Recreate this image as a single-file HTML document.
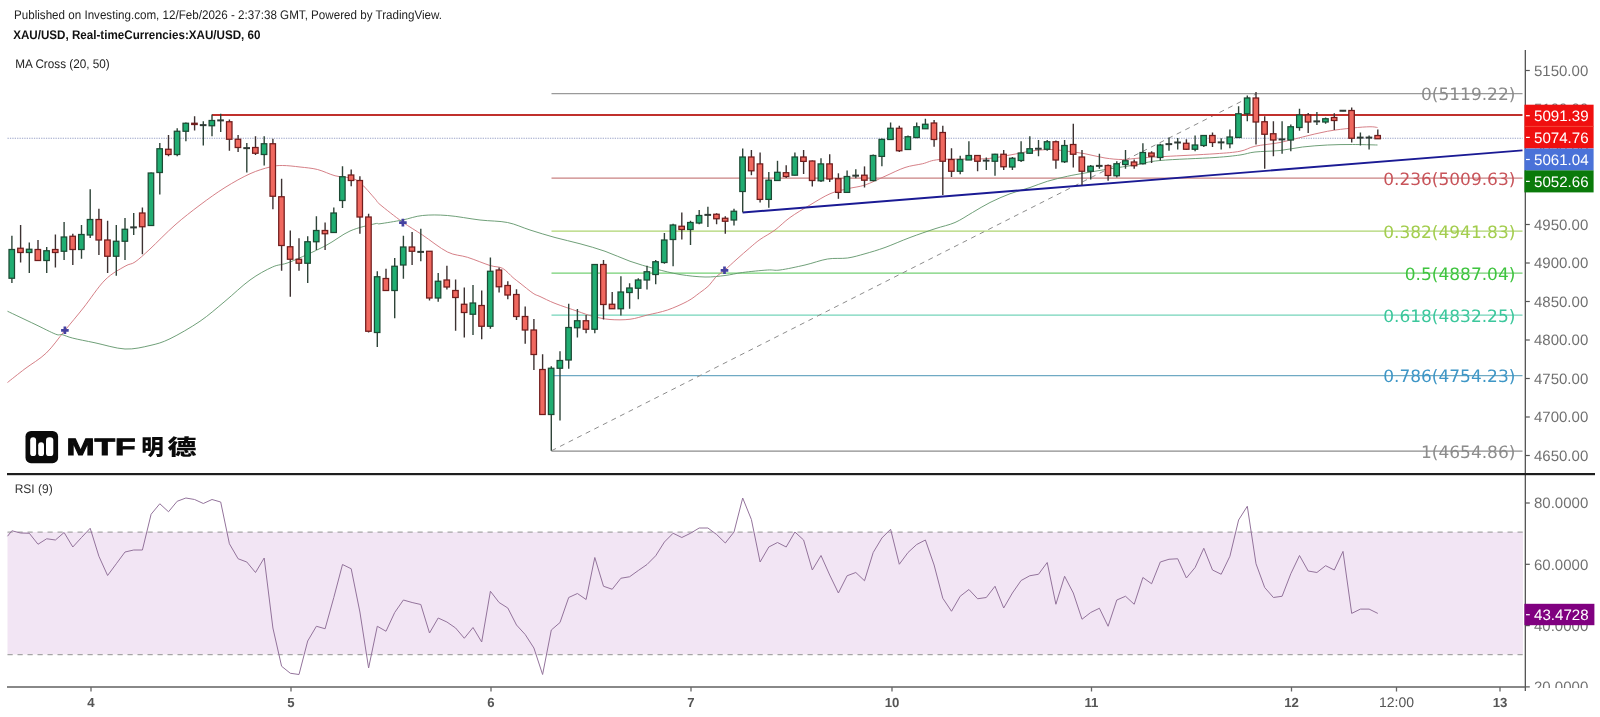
<!DOCTYPE html>
<html><head><meta charset="utf-8"><title>XAU/USD</title>
<style>
html,body{margin:0;padding:0;background:#fff;}
body{width:1600px;height:717px;overflow:hidden;font-family:"Liberation Sans","Noto Sans CJK SC",sans-serif;}
svg{display:block}
text{text-rendering:geometricPrecision}
.hd{font-size:12.5px;fill:#222}
.ax{font-size:15px;fill:#707070}
.lb{font-size:15.1px;fill:#fff}
.fib{font-family:"DejaVu Sans","Liberation Sans",sans-serif;font-size:17px;text-anchor:end}
.tm{font-size:13.2px;fill:#555;text-anchor:middle;font-weight:bold}
</style></head><body>
<svg width="1600" height="717" viewBox="0 0 1600 717">
<rect width="1600" height="717" fill="#fff"/>
<g style="filter:brightness(1)">

<rect x="7.5" y="532" width="1515.5" height="122.5" fill="#f2e5f4"/>
<line x1="7.5" y1="532" x2="1523" y2="532" stroke="#a6a6a6" stroke-width="1.25" stroke-dasharray="5.2 4.8"/>
<line x1="7.5" y1="654.5" x2="1523" y2="654.5" stroke="#a6a6a6" stroke-width="1.25" stroke-dasharray="5.2 4.8"/>
<polyline points="7.5,536.25 11.9,530.75 20.6,533 29.3,533.25 38,544.25 46.7,538.75 55.4,540 64.1,532.5 72.8,547 81.5,537.5 90.2,528.25 98.9,556.25 107.6,575.5 116.3,563.75 125,552 133.7,550 142.4,550 151.1,514.25 159.8,503.75 168.5,511.75 177.2,501.25 185.9,498 194.6,499.5 203.3,503.5 212,499.5 220.7,502 229.4,543.75 238.1,558.75 246.8,562 255.5,572.5 264.2,558 272.9,628 281.6,666.25 290.3,673.25 299,674.5 307.7,641 316.4,626.25 325.1,628.75 333.8,597.5 342.5,564.5 351.2,568.75 359.9,612 368.6,668 377.3,626.25 386,631.25 394.7,612.5 403.4,600 412.1,602.5 420.8,604.5 429.5,633 438.2,618 446.9,622 455.6,628 464.3,638.25 473,627.5 481.7,642 490.4,591.25 499.1,602.5 507.8,608 516.5,625 525.2,634.5 533.9,648 542.6,674.5 551.3,630 560,622.5 568.7,597.5 577.4,593.5 586.1,599.5 594.8,557.5 603.5,586.25 612.2,589.25 620.9,578.25 629.6,576.75 638.3,570.5 647,564.5 655.7,555.75 664.4,542 673.1,533.25 681.8,537.5 690.5,533.25 699.2,528 707.9,528 716.6,534.5 725.3,543 734,532 742.7,498 751.4,519.5 760.1,562 768.8,547 777.5,542.5 786.2,547 794.9,532 803.6,540 812.3,570 821,555.5 829.7,575 838.4,593 847.1,575.75 855.8,572.5 864.5,580.75 873.2,552.5 881.9,538 890.6,529.25 899.3,564.25 908,552.5 916.7,544.5 925.4,540 934.1,565 942.8,598.25 951.5,611.25 960.2,596.25 968.9,589.5 977.6,598.75 986.3,597.5 995,586.25 1003.7,608 1012.4,593 1021.1,580.5 1029.8,575.75 1038.5,574.25 1047.2,562.5 1055.9,604.25 1064.6,576.25 1073.3,593 1082,619.25 1090.7,612.5 1099.4,608.25 1108.1,626.25 1116.8,600 1125.5,596.25 1134.2,604.25 1142.9,577.5 1151.6,583.75 1160.3,562 1169,559.25 1177.7,558.75 1186.4,578 1195.1,567.5 1203.8,548.25 1212.5,570 1221.2,574.25 1229.9,556.25 1238.6,520 1247.3,506.25 1256,563.75 1264.7,587.5 1273.4,597.5 1282.1,596.25 1290.8,573.75 1299.5,555.5 1308.2,571 1316.9,572.5 1325.6,565.7 1334.3,570 1343,551.4 1351.7,613.4 1360.4,609.1 1369.1,609.1 1377.8,613.4" fill="none" stroke="#93739b" stroke-width="1" stroke-linejoin="round"/>
<line x1="551.5" y1="93.5" x2="1522.5" y2="93.5" stroke="#9a9a9a" stroke-width="1.25"/>
<line x1="551.5" y1="178" x2="1522.5" y2="178" stroke="#c98282" stroke-width="1.25"/>
<line x1="551.5" y1="231" x2="1522.5" y2="231" stroke="#aed470" stroke-width="1.25"/>
<line x1="551.5" y1="273" x2="1522.5" y2="273" stroke="#74d074" stroke-width="1.25"/>
<line x1="551.5" y1="315.2" x2="1522.5" y2="315.2" stroke="#74d4ba" stroke-width="1.25"/>
<line x1="551.5" y1="375.5" x2="1522.5" y2="375.5" stroke="#6faac4" stroke-width="1.25"/>
<line x1="551.5" y1="451" x2="1522.5" y2="451" stroke="#8c8c8c" stroke-width="1.25"/>
<line x1="551.5" y1="450.75" x2="1256" y2="94" stroke="#8c8c8c" stroke-width="1" stroke-dasharray="5 4.6"/>
<line x1="7.5" y1="138.2" x2="1522.5" y2="138.2" stroke="#9aa3c8" stroke-width="1.15" stroke-dasharray="1.3 1.1"/>
<path d="M7.5 382.5C10.42 380.21 18.53 373.67 25 368.75C31.47 363.83 39.65 359.39 46.3 353C52.95 346.61 58.73 337.9 64.9 330.4C71.07 322.9 76.62 316.4 83.3 308C89.98 299.6 98.05 286.96 105 280C111.95 273.04 120 269.25 125 266.25C130 263.25 130.83 264.88 135 262C139.17 259.12 143.33 255.17 150 249C156.67 242.83 166.67 232.33 175 225C183.33 217.67 191.67 211.25 200 205C208.33 198.75 216.67 192.71 225 187.5C233.33 182.29 242.5 177.17 250 173.75C257.5 170.33 264.58 168.38 270 167C275.42 165.62 277.5 165.5 282.5 165.5C287.5 165.5 294.17 166.33 300 167C305.83 167.67 311.67 168.04 317.5 169.5C323.33 170.96 329.58 174.33 335 175.75C340.42 177.17 345.83 176.88 350 178C354.17 179.12 355.83 179.04 360 182.5C364.17 185.96 371.67 195.08 375 198.75C378.33 202.42 375.42 200.62 380 204.5C384.58 208.38 395.42 216.92 402.5 222C409.58 227.08 415 230 422.5 235C430 240 440 248.28 447.5 252C455 255.72 460.42 255.05 467.5 257.3C474.58 259.55 484.17 263.67 490 265.5C495.83 267.33 498.67 266.28 502.5 268.3C506.33 270.32 510.08 275.13 513 277.6C515.92 280.07 516.65 280.48 520 283.1C523.35 285.72 529.77 291.07 533.1 293.3C536.43 295.53 536.35 294.82 540 296.5C543.65 298.18 548.75 300.94 555 303.4C561.25 305.86 571.25 309.11 577.5 311.25C583.75 313.39 587.08 314.88 592.5 316.25C597.92 317.62 603.75 319 610 319.5C616.25 320 623.75 320 630 319.25C636.25 318.5 641.25 316.54 647.5 315C653.75 313.46 660.83 312.29 667.5 310C674.17 307.71 682.18 304.08 687.5 301.25C692.82 298.42 695.85 295.59 699.4 293C702.95 290.41 706.08 288.33 708.8 285.7C711.52 283.07 713.08 279.77 715.7 277.2C718.32 274.63 720.95 273.33 724.5 270.3C728.05 267.27 732.82 262.72 737 259C741.18 255.28 745.77 251.25 749.6 248C753.43 244.75 755.77 242.5 760 239.5C764.23 236.5 770 233.67 775 230C780 226.33 784.17 221.67 790 217.5C795.83 213.33 803.33 208.96 810 205C816.67 201.04 823.75 196.46 830 193.75C836.25 191.04 841.67 190.21 847.5 188.75C853.33 187.29 858.75 187.08 865 185C871.25 182.92 878.33 179.17 885 176.25C891.67 173.33 898.75 169.58 905 167.5C911.25 165.42 916.67 165.08 922.5 163.75C928.33 162.42 929.58 160.33 940 159.5C950.42 158.67 973.33 159.5 985 158.75C996.67 158 1002.5 156.25 1010 155C1017.5 153.75 1023.33 152.17 1030 151.25C1036.67 150.33 1043.75 149.5 1050 149.5C1056.25 149.5 1061.67 150.54 1067.5 151.25C1073.33 151.96 1078.75 152.62 1085 153.75C1091.25 154.88 1098.75 157.04 1105 158C1111.25 158.96 1116.67 159.5 1122.5 159.5C1128.33 159.5 1132.92 158.5 1140 158C1147.08 157.5 1152.5 157.21 1165 156.5C1177.5 155.79 1202.5 154.62 1215 153.75C1227.5 152.88 1233.33 152.5 1240 151.25C1246.67 150 1248.33 147.71 1255 146.25C1261.67 144.79 1272.08 144.04 1280 142.5C1287.92 140.96 1294.58 138.88 1302.5 137C1310.42 135.12 1319.17 132.75 1327.5 131.25C1335.83 129.75 1345.42 128.75 1352.5 128C1359.58 127.25 1365.83 126.83 1370 126.75C1374.17 126.67 1376.25 127.38 1377.5 127.5" fill="none" stroke="#d0727a" stroke-width="1" stroke-opacity="0.9"/>
<path d="M7.5 311.25C12.08 313.43 26.97 320.48 35 324.3C43.03 328.12 51.2 332.48 55.7 334.2C60.2 335.92 59.17 333.95 62 334.6C64.83 335.25 67.2 336.73 72.7 338.1C78.2 339.47 86.28 340.98 95 342.8C103.72 344.62 115.83 348.55 125 349C134.17 349.45 142.5 347.21 150 345.5C157.5 343.79 161.67 342.79 170 338.75C178.33 334.71 190.83 327.5 200 321.25C209.17 315 216.67 308.12 225 301.25C233.33 294.38 242.08 285.71 250 280C257.92 274.29 265.83 270 272.5 267C279.17 264 281.25 265.5 290 262C298.75 258.5 315 251.17 325 246C335 240.83 341.67 234.71 350 231C358.33 227.29 370 224.96 375 223.75C380 222.54 375.42 224.38 380 223.75C384.58 223.12 395.42 221.38 402.5 220C409.58 218.62 415 216.25 422.5 215.5C430 214.75 437.92 214.75 447.5 215.5C457.08 216.25 470 218.83 480 220C490 221.17 499.17 220.83 507.5 222.5C515.83 224.17 522.08 227.5 530 230C537.92 232.5 546.67 235.21 555 237.5C563.33 239.79 571.67 241.46 580 243.75C588.33 246.04 596.67 248.33 605 251.25C613.33 254.17 621.67 258.33 630 261.25C638.33 264.17 646.67 266.54 655 268.75C663.33 270.96 671.67 273.12 680 274.5C688.33 275.88 697.5 276.83 705 277C712.5 277.17 718.75 276.25 725 275.5C731.25 274.75 735.42 273.42 742.5 272.5C749.58 271.58 761.25 270.42 767.5 270C773.75 269.58 773.75 270.83 780 270C786.25 269.17 797.08 266.83 805 265C812.92 263.17 820.42 260.17 827.5 259C834.58 257.83 841.25 258.88 847.5 258C853.75 257.12 858.75 255.5 865 253.75C871.25 252 877.5 250.21 885 247.5C892.5 244.79 901.67 240.62 910 237.5C918.33 234.38 927.5 231.25 935 228.75C942.5 226.25 948.75 225.21 955 222.5C961.25 219.79 966.67 215.83 972.5 212.5C978.33 209.17 983.75 205.62 990 202.5C996.25 199.38 1003.33 196.25 1010 193.75C1016.67 191.25 1023.75 189.58 1030 187.5C1036.25 185.42 1041.25 183.12 1047.5 181.25C1053.75 179.38 1061.25 177.62 1067.5 176.25C1073.75 174.88 1077.92 174.25 1085 173C1092.08 171.75 1101.67 170.08 1110 168.75C1118.33 167.42 1126.67 166.38 1135 165C1143.33 163.62 1146.67 161.75 1160 160.5C1173.33 159.25 1201.67 158.42 1215 157.5C1228.33 156.58 1233.33 155.92 1240 155C1246.67 154.08 1248.33 152.75 1255 152C1261.67 151.25 1272.08 151.33 1280 150.5C1287.92 149.67 1294.58 147.92 1302.5 147C1310.42 146.08 1319.17 145.42 1327.5 145C1335.83 144.58 1344.17 144.5 1352.5 144.5C1360.83 144.5 1373.33 144.92 1377.5 145" fill="none" stroke="#5f9569" stroke-width="1" stroke-opacity="0.9"/>
<line x1="212" y1="115" x2="1522.5" y2="115" stroke="#c0302c" stroke-width="2.2"/>
<line x1="742.6" y1="212.5" x2="1522.5" y2="150.4" stroke="#1a1a94" stroke-width="1.9"/>
<line x1="11.9" y1="235.75" x2="11.9" y2="283" stroke="#2f4439" stroke-width="1.4"/>
<rect x="9" y="249.5" width="5.5" height="28.75" fill="#20ad72" stroke="#1c4a34" stroke-width="1.25"/>
<line x1="20.6" y1="225" x2="20.6" y2="262.5" stroke="#3d3232" stroke-width="1.4"/>
<rect x="17.7" y="248.25" width="5.5" height="4.25" fill="#f0685f" stroke="#701c1c" stroke-width="1.25"/>
<line x1="29.3" y1="242.5" x2="29.3" y2="273" stroke="#2f4439" stroke-width="1.4"/>
<rect x="26.4" y="249.25" width="5.5" height="3.25" fill="#20ad72" stroke="#1c4a34" stroke-width="1.25"/>
<line x1="38" y1="240" x2="38" y2="260.5" stroke="#3d3232" stroke-width="1.4"/>
<rect x="35.1" y="249.5" width="5.5" height="11" fill="#f0685f" stroke="#701c1c" stroke-width="1.25"/>
<line x1="46.7" y1="247" x2="46.7" y2="273" stroke="#2f4439" stroke-width="1.4"/>
<rect x="43.8" y="250.75" width="5.5" height="9.75" fill="#20ad72" stroke="#1c4a34" stroke-width="1.25"/>
<line x1="55.4" y1="234.5" x2="55.4" y2="267.5" stroke="#3d3232" stroke-width="1.4"/>
<rect x="52.5" y="249.5" width="5.5" height="3" fill="#f0685f" stroke="#701c1c" stroke-width="1.25"/>
<line x1="64.1" y1="222" x2="64.1" y2="260" stroke="#2f4439" stroke-width="1.4"/>
<rect x="61.2" y="237" width="5.5" height="14.25" fill="#20ad72" stroke="#1c4a34" stroke-width="1.25"/>
<line x1="72.8" y1="233.75" x2="72.8" y2="265" stroke="#3d3232" stroke-width="1.4"/>
<rect x="69.9" y="236.25" width="5.5" height="13.25" fill="#f0685f" stroke="#701c1c" stroke-width="1.25"/>
<line x1="81.5" y1="225" x2="81.5" y2="258.75" stroke="#2f4439" stroke-width="1.4"/>
<rect x="78.6" y="234.5" width="5.5" height="15" fill="#20ad72" stroke="#1c4a34" stroke-width="1.25"/>
<line x1="90.2" y1="189.25" x2="90.2" y2="238" stroke="#2f4439" stroke-width="1.4"/>
<rect x="87.3" y="219.5" width="5.5" height="15.5" fill="#20ad72" stroke="#1c4a34" stroke-width="1.25"/>
<line x1="98.9" y1="208.75" x2="98.9" y2="255" stroke="#3d3232" stroke-width="1.4"/>
<rect x="96" y="219.5" width="5.5" height="20.5" fill="#f0685f" stroke="#701c1c" stroke-width="1.25"/>
<line x1="107.6" y1="220.75" x2="107.6" y2="273" stroke="#3d3232" stroke-width="1.4"/>
<rect x="104.7" y="240" width="5.5" height="16.25" fill="#f0685f" stroke="#701c1c" stroke-width="1.25"/>
<line x1="116.3" y1="225" x2="116.3" y2="275.75" stroke="#2f4439" stroke-width="1.4"/>
<rect x="113.4" y="241.25" width="5.5" height="15" fill="#20ad72" stroke="#1c4a34" stroke-width="1.25"/>
<line x1="125" y1="218" x2="125" y2="260" stroke="#2f4439" stroke-width="1.4"/>
<rect x="122.1" y="229.25" width="5.5" height="12" fill="#20ad72" stroke="#1c4a34" stroke-width="1.25"/>
<line x1="133.7" y1="213" x2="133.7" y2="235" stroke="#2f4439" stroke-width="1.4"/>
<line x1="130.2" y1="227.38" x2="136.9" y2="227.38" stroke="#2f3a35" stroke-width="2"/>
<line x1="142.4" y1="207.5" x2="142.4" y2="254.25" stroke="#3d3232" stroke-width="1.4"/>
<rect x="139.5" y="213" width="5.5" height="13.75" fill="#f0685f" stroke="#701c1c" stroke-width="1.25"/>
<line x1="151.1" y1="172.5" x2="151.1" y2="225.5" stroke="#2f4439" stroke-width="1.4"/>
<rect x="148.2" y="173" width="5.5" height="52.5" fill="#20ad72" stroke="#1c4a34" stroke-width="1.25"/>
<line x1="159.8" y1="143" x2="159.8" y2="194.5" stroke="#2f4439" stroke-width="1.4"/>
<rect x="156.9" y="148.75" width="5.5" height="23.75" fill="#20ad72" stroke="#1c4a34" stroke-width="1.25"/>
<line x1="168.5" y1="135" x2="168.5" y2="156.25" stroke="#3d3232" stroke-width="1.4"/>
<rect x="165.6" y="149.25" width="5.5" height="5.25" fill="#f0685f" stroke="#701c1c" stroke-width="1.25"/>
<line x1="177.2" y1="128.25" x2="177.2" y2="156.25" stroke="#2f4439" stroke-width="1.4"/>
<rect x="174.3" y="131.25" width="5.5" height="23.25" fill="#20ad72" stroke="#1c4a34" stroke-width="1.25"/>
<line x1="185.9" y1="122.5" x2="185.9" y2="141.25" stroke="#2f4439" stroke-width="1.4"/>
<rect x="183" y="123.25" width="5.5" height="8" fill="#20ad72" stroke="#1c4a34" stroke-width="1.25"/>
<line x1="194.6" y1="116.25" x2="194.6" y2="130.5" stroke="#3d3232" stroke-width="1.4"/>
<rect x="191.7" y="123.25" width="5.5" height="1.25" fill="#f0685f" stroke="#701c1c" stroke-width="1.25"/>
<line x1="203.3" y1="121.25" x2="203.3" y2="145.5" stroke="#2f4439" stroke-width="1.4"/>
<line x1="199.8" y1="125.12" x2="206.5" y2="125.12" stroke="#2f3a35" stroke-width="2"/>
<line x1="212" y1="114.5" x2="212" y2="136.25" stroke="#2f4439" stroke-width="1.4"/>
<rect x="209.1" y="120.5" width="5.5" height="5.25" fill="#20ad72" stroke="#1c4a34" stroke-width="1.25"/>
<line x1="220.7" y1="113.75" x2="220.7" y2="132" stroke="#2f4439" stroke-width="1.4"/>
<line x1="217.2" y1="120.38" x2="223.9" y2="120.38" stroke="#2f3a35" stroke-width="2"/>
<line x1="229.4" y1="119.5" x2="229.4" y2="150.75" stroke="#3d3232" stroke-width="1.4"/>
<rect x="226.5" y="121.75" width="5.5" height="17.5" fill="#f0685f" stroke="#701c1c" stroke-width="1.25"/>
<line x1="238.1" y1="135" x2="238.1" y2="152" stroke="#3d3232" stroke-width="1.4"/>
<rect x="235.2" y="139.25" width="5.5" height="8.25" fill="#f0685f" stroke="#701c1c" stroke-width="1.25"/>
<line x1="246.8" y1="143" x2="246.8" y2="172.5" stroke="#2f4439" stroke-width="1.4"/>
<line x1="243.3" y1="148.12" x2="250" y2="148.12" stroke="#2f3a35" stroke-width="2"/>
<line x1="255.5" y1="136.25" x2="255.5" y2="155" stroke="#3d3232" stroke-width="1.4"/>
<rect x="252.6" y="147.5" width="5.5" height="5.75" fill="#f0685f" stroke="#701c1c" stroke-width="1.25"/>
<line x1="264.2" y1="136.25" x2="264.2" y2="165.5" stroke="#2f4439" stroke-width="1.4"/>
<rect x="261.3" y="143.75" width="5.5" height="10.75" fill="#20ad72" stroke="#1c4a34" stroke-width="1.25"/>
<line x1="272.9" y1="138.75" x2="272.9" y2="209.25" stroke="#3d3232" stroke-width="1.4"/>
<rect x="270" y="143.75" width="5.5" height="52.5" fill="#f0685f" stroke="#701c1c" stroke-width="1.25"/>
<line x1="281.6" y1="178.75" x2="281.6" y2="270.75" stroke="#3d3232" stroke-width="1.4"/>
<rect x="278.7" y="196.75" width="5.5" height="48.75" fill="#f0685f" stroke="#701c1c" stroke-width="1.25"/>
<line x1="290.3" y1="230.5" x2="290.3" y2="296.75" stroke="#3d3232" stroke-width="1.4"/>
<rect x="287.4" y="246.75" width="5.5" height="12.5" fill="#f0685f" stroke="#701c1c" stroke-width="1.25"/>
<line x1="299" y1="238.25" x2="299" y2="270.75" stroke="#3d3232" stroke-width="1.4"/>
<rect x="296.1" y="259.25" width="5.5" height="4" fill="#f0685f" stroke="#701c1c" stroke-width="1.25"/>
<line x1="307.7" y1="236.25" x2="307.7" y2="283" stroke="#2f4439" stroke-width="1.4"/>
<rect x="304.8" y="241.75" width="5.5" height="21.5" fill="#20ad72" stroke="#1c4a34" stroke-width="1.25"/>
<line x1="316.4" y1="216.25" x2="316.4" y2="250" stroke="#2f4439" stroke-width="1.4"/>
<rect x="313.5" y="230.5" width="5.5" height="11.25" fill="#20ad72" stroke="#1c4a34" stroke-width="1.25"/>
<line x1="325.1" y1="222.5" x2="325.1" y2="250" stroke="#3d3232" stroke-width="1.4"/>
<rect x="322.2" y="230.5" width="5.5" height="3.25" fill="#f0685f" stroke="#701c1c" stroke-width="1.25"/>
<line x1="333.8" y1="207.5" x2="333.8" y2="232.5" stroke="#2f4439" stroke-width="1.4"/>
<rect x="330.9" y="213" width="5.5" height="19.5" fill="#20ad72" stroke="#1c4a34" stroke-width="1.25"/>
<line x1="342.5" y1="166.25" x2="342.5" y2="208" stroke="#2f4439" stroke-width="1.4"/>
<rect x="339.6" y="176.75" width="5.5" height="23.75" fill="#20ad72" stroke="#1c4a34" stroke-width="1.25"/>
<line x1="351.2" y1="169.5" x2="351.2" y2="186.25" stroke="#3d3232" stroke-width="1.4"/>
<rect x="348.3" y="175" width="5.5" height="5.5" fill="#f0685f" stroke="#701c1c" stroke-width="1.25"/>
<line x1="359.9" y1="176.25" x2="359.9" y2="233.75" stroke="#3d3232" stroke-width="1.4"/>
<rect x="357" y="180.5" width="5.5" height="36.5" fill="#f0685f" stroke="#701c1c" stroke-width="1.25"/>
<line x1="368.6" y1="213.75" x2="368.6" y2="332.5" stroke="#3d3232" stroke-width="1.4"/>
<rect x="365.7" y="217" width="5.5" height="114.25" fill="#f0685f" stroke="#701c1c" stroke-width="1.25"/>
<line x1="377.3" y1="271.25" x2="377.3" y2="347" stroke="#2f4439" stroke-width="1.4"/>
<rect x="374.4" y="276.75" width="5.5" height="55.75" fill="#20ad72" stroke="#1c4a34" stroke-width="1.25"/>
<line x1="386" y1="268.75" x2="386" y2="290.5" stroke="#3d3232" stroke-width="1.4"/>
<rect x="383.1" y="278.5" width="5.5" height="12" fill="#f0685f" stroke="#701c1c" stroke-width="1.25"/>
<line x1="394.7" y1="258" x2="394.7" y2="318.25" stroke="#2f4439" stroke-width="1.4"/>
<rect x="391.8" y="266.25" width="5.5" height="24.25" fill="#20ad72" stroke="#1c4a34" stroke-width="1.25"/>
<line x1="403.4" y1="235.75" x2="403.4" y2="278.75" stroke="#2f4439" stroke-width="1.4"/>
<rect x="400.5" y="247" width="5.5" height="18" fill="#20ad72" stroke="#1c4a34" stroke-width="1.25"/>
<line x1="412.1" y1="232" x2="412.1" y2="265" stroke="#3d3232" stroke-width="1.4"/>
<rect x="409.2" y="247" width="5.5" height="4.25" fill="#f0685f" stroke="#701c1c" stroke-width="1.25"/>
<line x1="420.8" y1="228.75" x2="420.8" y2="261.25" stroke="#2f4439" stroke-width="1.4"/>
<line x1="417.3" y1="251.88" x2="424" y2="251.88" stroke="#2f3a35" stroke-width="2"/>
<line x1="429.5" y1="251.25" x2="429.5" y2="300.5" stroke="#3d3232" stroke-width="1.4"/>
<rect x="426.6" y="251.25" width="5.5" height="46.75" fill="#f0685f" stroke="#701c1c" stroke-width="1.25"/>
<line x1="438.2" y1="273" x2="438.2" y2="301.75" stroke="#2f4439" stroke-width="1.4"/>
<rect x="435.3" y="281.25" width="5.5" height="16.75" fill="#20ad72" stroke="#1c4a34" stroke-width="1.25"/>
<line x1="446.9" y1="265.75" x2="446.9" y2="289.5" stroke="#3d3232" stroke-width="1.4"/>
<rect x="444" y="280" width="5.5" height="7" fill="#f0685f" stroke="#701c1c" stroke-width="1.25"/>
<line x1="455.6" y1="279.5" x2="455.6" y2="330.75" stroke="#3d3232" stroke-width="1.4"/>
<rect x="452.7" y="290.5" width="5.5" height="7" fill="#f0685f" stroke="#701c1c" stroke-width="1.25"/>
<line x1="464.3" y1="287.5" x2="464.3" y2="337.5" stroke="#3d3232" stroke-width="1.4"/>
<rect x="461.4" y="304.25" width="5.5" height="8.25" fill="#f0685f" stroke="#701c1c" stroke-width="1.25"/>
<line x1="473" y1="285" x2="473" y2="335" stroke="#2f4439" stroke-width="1.4"/>
<rect x="470.1" y="303" width="5.5" height="11.25" fill="#20ad72" stroke="#1c4a34" stroke-width="1.25"/>
<line x1="481.7" y1="290.5" x2="481.7" y2="339.25" stroke="#3d3232" stroke-width="1.4"/>
<rect x="478.8" y="305.5" width="5.5" height="20.75" fill="#f0685f" stroke="#701c1c" stroke-width="1.25"/>
<line x1="490.4" y1="257.5" x2="490.4" y2="328.75" stroke="#2f4439" stroke-width="1.4"/>
<rect x="487.5" y="271.25" width="5.5" height="55" fill="#20ad72" stroke="#1c4a34" stroke-width="1.25"/>
<line x1="499.1" y1="267.5" x2="499.1" y2="292.5" stroke="#3d3232" stroke-width="1.4"/>
<rect x="496.2" y="270" width="5.5" height="16.75" fill="#f0685f" stroke="#701c1c" stroke-width="1.25"/>
<line x1="507.8" y1="281.25" x2="507.8" y2="299.25" stroke="#3d3232" stroke-width="1.4"/>
<rect x="504.9" y="285.5" width="5.5" height="9.5" fill="#f0685f" stroke="#701c1c" stroke-width="1.25"/>
<line x1="516.5" y1="289.25" x2="516.5" y2="320" stroke="#3d3232" stroke-width="1.4"/>
<rect x="513.6" y="294.5" width="5.5" height="22" fill="#f0685f" stroke="#701c1c" stroke-width="1.25"/>
<line x1="525.2" y1="306.5" x2="525.2" y2="343.75" stroke="#3d3232" stroke-width="1.4"/>
<rect x="522.3" y="316.5" width="5.5" height="13.5" fill="#f0685f" stroke="#701c1c" stroke-width="1.25"/>
<line x1="533.9" y1="319" x2="533.9" y2="370" stroke="#3d3232" stroke-width="1.4"/>
<rect x="531" y="330" width="5.5" height="24.5" fill="#f0685f" stroke="#701c1c" stroke-width="1.25"/>
<line x1="542.6" y1="354.25" x2="542.6" y2="414.5" stroke="#3d3232" stroke-width="1.4"/>
<rect x="539.7" y="369.5" width="5.5" height="45" fill="#f0685f" stroke="#701c1c" stroke-width="1.25"/>
<line x1="551.3" y1="366.25" x2="551.3" y2="450.75" stroke="#2f4439" stroke-width="1.4"/>
<rect x="548.4" y="368.25" width="5.5" height="46.25" fill="#20ad72" stroke="#1c4a34" stroke-width="1.25"/>
<line x1="560" y1="351.25" x2="560" y2="420.5" stroke="#2f4439" stroke-width="1.4"/>
<rect x="557.1" y="360.5" width="5.5" height="7.75" fill="#20ad72" stroke="#1c4a34" stroke-width="1.25"/>
<line x1="568.7" y1="303.75" x2="568.7" y2="368.75" stroke="#2f4439" stroke-width="1.4"/>
<rect x="565.8" y="327.5" width="5.5" height="32.5" fill="#20ad72" stroke="#1c4a34" stroke-width="1.25"/>
<line x1="577.4" y1="309" x2="577.4" y2="337.5" stroke="#2f4439" stroke-width="1.4"/>
<rect x="574.5" y="320.75" width="5.5" height="7" fill="#20ad72" stroke="#1c4a34" stroke-width="1.25"/>
<line x1="586.1" y1="315" x2="586.1" y2="333.25" stroke="#3d3232" stroke-width="1.4"/>
<rect x="583.2" y="320.75" width="5.5" height="8.5" fill="#f0685f" stroke="#701c1c" stroke-width="1.25"/>
<line x1="594.8" y1="264.5" x2="594.8" y2="333.25" stroke="#2f4439" stroke-width="1.4"/>
<rect x="591.9" y="264.5" width="5.5" height="64.75" fill="#20ad72" stroke="#1c4a34" stroke-width="1.25"/>
<line x1="603.5" y1="260" x2="603.5" y2="319.5" stroke="#3d3232" stroke-width="1.4"/>
<rect x="600.6" y="264.5" width="5.5" height="40" fill="#f0685f" stroke="#701c1c" stroke-width="1.25"/>
<line x1="612.2" y1="292" x2="612.2" y2="308.75" stroke="#3d3232" stroke-width="1.4"/>
<rect x="609.3" y="304.25" width="5.5" height="4.5" fill="#f0685f" stroke="#701c1c" stroke-width="1.25"/>
<line x1="620.9" y1="276.25" x2="620.9" y2="315.5" stroke="#2f4439" stroke-width="1.4"/>
<rect x="618" y="292" width="5.5" height="16.75" fill="#20ad72" stroke="#1c4a34" stroke-width="1.25"/>
<line x1="629.6" y1="283.25" x2="629.6" y2="308.75" stroke="#2f4439" stroke-width="1.4"/>
<rect x="626.7" y="288" width="5.5" height="4.5" fill="#20ad72" stroke="#1c4a34" stroke-width="1.25"/>
<line x1="638.3" y1="278.25" x2="638.3" y2="299.25" stroke="#2f4439" stroke-width="1.4"/>
<rect x="635.4" y="280" width="5.5" height="8.25" fill="#20ad72" stroke="#1c4a34" stroke-width="1.25"/>
<line x1="647" y1="265.75" x2="647" y2="289.5" stroke="#2f4439" stroke-width="1.4"/>
<rect x="644.1" y="271.75" width="5.5" height="8.25" fill="#20ad72" stroke="#1c4a34" stroke-width="1.25"/>
<line x1="655.7" y1="260" x2="655.7" y2="284.25" stroke="#2f4439" stroke-width="1.4"/>
<rect x="652.8" y="261.75" width="5.5" height="12.75" fill="#20ad72" stroke="#1c4a34" stroke-width="1.25"/>
<line x1="664.4" y1="233" x2="664.4" y2="263.75" stroke="#2f4439" stroke-width="1.4"/>
<rect x="661.5" y="240" width="5.5" height="22.5" fill="#20ad72" stroke="#1c4a34" stroke-width="1.25"/>
<line x1="673.1" y1="223.75" x2="673.1" y2="266.25" stroke="#2f4439" stroke-width="1.4"/>
<rect x="670.2" y="225" width="5.5" height="14.5" fill="#20ad72" stroke="#1c4a34" stroke-width="1.25"/>
<line x1="681.8" y1="212.5" x2="681.8" y2="239.5" stroke="#3d3232" stroke-width="1.4"/>
<rect x="678.9" y="226.25" width="5.5" height="3.25" fill="#f0685f" stroke="#701c1c" stroke-width="1.25"/>
<line x1="690.5" y1="220.75" x2="690.5" y2="245" stroke="#2f4439" stroke-width="1.4"/>
<rect x="687.6" y="222.5" width="5.5" height="7" fill="#20ad72" stroke="#1c4a34" stroke-width="1.25"/>
<line x1="699.2" y1="210" x2="699.2" y2="224.25" stroke="#2f4439" stroke-width="1.4"/>
<rect x="696.3" y="215.5" width="5.5" height="7.5" fill="#20ad72" stroke="#1c4a34" stroke-width="1.25"/>
<line x1="707.9" y1="206.75" x2="707.9" y2="227" stroke="#2f4439" stroke-width="1.4"/>
<line x1="704.4" y1="214.88" x2="711.1" y2="214.88" stroke="#2f3a35" stroke-width="2"/>
<line x1="716.6" y1="213.25" x2="716.6" y2="224.25" stroke="#3d3232" stroke-width="1.4"/>
<rect x="713.7" y="214.25" width="5.5" height="4.5" fill="#f0685f" stroke="#701c1c" stroke-width="1.25"/>
<line x1="725.3" y1="216.25" x2="725.3" y2="233.75" stroke="#3d3232" stroke-width="1.4"/>
<rect x="722.4" y="218.25" width="5.5" height="3" fill="#f0685f" stroke="#701c1c" stroke-width="1.25"/>
<line x1="734" y1="208.75" x2="734" y2="225.5" stroke="#2f4439" stroke-width="1.4"/>
<rect x="731.1" y="211.25" width="5.5" height="8.75" fill="#20ad72" stroke="#1c4a34" stroke-width="1.25"/>
<line x1="742.7" y1="148.6" x2="742.7" y2="212.2" stroke="#2f4439" stroke-width="1.4"/>
<rect x="739.8" y="157" width="5.5" height="34.5" fill="#20ad72" stroke="#1c4a34" stroke-width="1.25"/>
<line x1="751.4" y1="150" x2="751.4" y2="175.2" stroke="#3d3232" stroke-width="1.4"/>
<rect x="748.5" y="157" width="5.5" height="13.8" fill="#f0685f" stroke="#701c1c" stroke-width="1.25"/>
<line x1="760.1" y1="152.6" x2="760.1" y2="202.6" stroke="#3d3232" stroke-width="1.4"/>
<rect x="757.2" y="163.9" width="5.5" height="35.5" fill="#f0685f" stroke="#701c1c" stroke-width="1.25"/>
<line x1="768.8" y1="172" x2="768.8" y2="207.8" stroke="#2f4439" stroke-width="1.4"/>
<rect x="765.9" y="180.2" width="5.5" height="19.2" fill="#20ad72" stroke="#1c4a34" stroke-width="1.25"/>
<line x1="777.5" y1="160.8" x2="777.5" y2="180.5" stroke="#2f4439" stroke-width="1.4"/>
<rect x="774.6" y="172.3" width="5.5" height="8.2" fill="#20ad72" stroke="#1c4a34" stroke-width="1.25"/>
<line x1="786.2" y1="165.2" x2="786.2" y2="178" stroke="#3d3232" stroke-width="1.4"/>
<rect x="783.3" y="172.7" width="5.5" height="3.8" fill="#f0685f" stroke="#701c1c" stroke-width="1.25"/>
<line x1="794.9" y1="152.6" x2="794.9" y2="175.5" stroke="#2f4439" stroke-width="1.4"/>
<rect x="792" y="157" width="5.5" height="18.2" fill="#20ad72" stroke="#1c4a34" stroke-width="1.25"/>
<line x1="803.6" y1="150" x2="803.6" y2="174" stroke="#3d3232" stroke-width="1.4"/>
<rect x="800.7" y="157" width="5.5" height="4.4" fill="#f0685f" stroke="#701c1c" stroke-width="1.25"/>
<line x1="812.3" y1="160.5" x2="812.3" y2="186.5" stroke="#3d3232" stroke-width="1.4"/>
<rect x="809.4" y="161" width="5.5" height="19.5" fill="#f0685f" stroke="#701c1c" stroke-width="1.25"/>
<line x1="821" y1="158.2" x2="821" y2="182.1" stroke="#2f4439" stroke-width="1.4"/>
<rect x="818.1" y="163.9" width="5.5" height="16.9" fill="#20ad72" stroke="#1c4a34" stroke-width="1.25"/>
<line x1="829.7" y1="154.2" x2="829.7" y2="182.1" stroke="#3d3232" stroke-width="1.4"/>
<rect x="826.8" y="163.9" width="5.5" height="15.1" fill="#f0685f" stroke="#701c1c" stroke-width="1.25"/>
<line x1="838.4" y1="173.3" x2="838.4" y2="198.8" stroke="#3d3232" stroke-width="1.4"/>
<rect x="835.5" y="178.7" width="5.5" height="13.7" fill="#f0685f" stroke="#701c1c" stroke-width="1.25"/>
<line x1="847.1" y1="170.4" x2="847.1" y2="192.6" stroke="#2f4439" stroke-width="1.4"/>
<rect x="844.2" y="176.5" width="5.5" height="15.9" fill="#20ad72" stroke="#1c4a34" stroke-width="1.25"/>
<line x1="855.8" y1="169.3" x2="855.8" y2="178.3" stroke="#2f4439" stroke-width="1.4"/>
<line x1="852.3" y1="175.65" x2="859" y2="175.65" stroke="#2f3a35" stroke-width="2"/>
<line x1="864.5" y1="166.4" x2="864.5" y2="187.5" stroke="#3d3232" stroke-width="1.4"/>
<rect x="861.6" y="175.2" width="5.5" height="5" fill="#f0685f" stroke="#701c1c" stroke-width="1.25"/>
<line x1="873.2" y1="154.5" x2="873.2" y2="181.25" stroke="#2f4439" stroke-width="1.4"/>
<rect x="870.3" y="155.5" width="5.5" height="25.1" fill="#20ad72" stroke="#1c4a34" stroke-width="1.25"/>
<line x1="881.9" y1="138.6" x2="881.9" y2="166.2" stroke="#2f4439" stroke-width="1.4"/>
<rect x="879" y="139.4" width="5.5" height="17" fill="#20ad72" stroke="#1c4a34" stroke-width="1.25"/>
<line x1="890.6" y1="122.5" x2="890.6" y2="140" stroke="#2f4439" stroke-width="1.4"/>
<rect x="887.7" y="128.25" width="5.5" height="11.25" fill="#20ad72" stroke="#1c4a34" stroke-width="1.25"/>
<line x1="899.3" y1="125.75" x2="899.3" y2="152" stroke="#3d3232" stroke-width="1.4"/>
<rect x="896.4" y="128.25" width="5.5" height="22.5" fill="#f0685f" stroke="#701c1c" stroke-width="1.25"/>
<line x1="908" y1="135.5" x2="908" y2="150" stroke="#2f4439" stroke-width="1.4"/>
<rect x="905.1" y="136.75" width="5.5" height="12.75" fill="#20ad72" stroke="#1c4a34" stroke-width="1.25"/>
<line x1="916.7" y1="122.5" x2="916.7" y2="138.25" stroke="#2f4439" stroke-width="1.4"/>
<rect x="913.8" y="126.75" width="5.5" height="10.75" fill="#20ad72" stroke="#1c4a34" stroke-width="1.25"/>
<line x1="925.4" y1="118.75" x2="925.4" y2="128.75" stroke="#2f4439" stroke-width="1.4"/>
<rect x="922.5" y="124.25" width="5.5" height="4.5" fill="#20ad72" stroke="#1c4a34" stroke-width="1.25"/>
<line x1="934.1" y1="120" x2="934.1" y2="146.75" stroke="#3d3232" stroke-width="1.4"/>
<rect x="931.2" y="123" width="5.5" height="16.5" fill="#f0685f" stroke="#701c1c" stroke-width="1.25"/>
<line x1="942.8" y1="125.75" x2="942.8" y2="195" stroke="#3d3232" stroke-width="1.4"/>
<rect x="939.9" y="132.5" width="5.5" height="28.75" fill="#f0685f" stroke="#701c1c" stroke-width="1.25"/>
<line x1="951.5" y1="148.25" x2="951.5" y2="177" stroke="#3d3232" stroke-width="1.4"/>
<rect x="948.6" y="159.5" width="5.5" height="11.75" fill="#f0685f" stroke="#701c1c" stroke-width="1.25"/>
<line x1="960.2" y1="155.75" x2="960.2" y2="174.25" stroke="#2f4439" stroke-width="1.4"/>
<rect x="957.3" y="159.5" width="5.5" height="11.75" fill="#20ad72" stroke="#1c4a34" stroke-width="1.25"/>
<line x1="968.9" y1="141.25" x2="968.9" y2="160" stroke="#2f4439" stroke-width="1.4"/>
<rect x="966" y="155.5" width="5.5" height="4.5" fill="#20ad72" stroke="#1c4a34" stroke-width="1.25"/>
<line x1="977.6" y1="155" x2="977.6" y2="171.25" stroke="#3d3232" stroke-width="1.4"/>
<rect x="974.7" y="155.5" width="5.5" height="5.75" fill="#f0685f" stroke="#701c1c" stroke-width="1.25"/>
<line x1="986.3" y1="157.5" x2="986.3" y2="170" stroke="#2f4439" stroke-width="1.4"/>
<line x1="982.8" y1="160.62" x2="989.5" y2="160.62" stroke="#2f3a35" stroke-width="2"/>
<line x1="995" y1="153.75" x2="995" y2="175.75" stroke="#2f4439" stroke-width="1.4"/>
<rect x="992.1" y="154.25" width="5.5" height="7" fill="#20ad72" stroke="#1c4a34" stroke-width="1.25"/>
<line x1="1003.7" y1="150" x2="1003.7" y2="170" stroke="#3d3232" stroke-width="1.4"/>
<rect x="1000.8" y="154.25" width="5.5" height="12.5" fill="#f0685f" stroke="#701c1c" stroke-width="1.25"/>
<line x1="1012.4" y1="157" x2="1012.4" y2="170" stroke="#2f4439" stroke-width="1.4"/>
<rect x="1009.5" y="158.25" width="5.5" height="8.75" fill="#20ad72" stroke="#1c4a34" stroke-width="1.25"/>
<line x1="1021.1" y1="141.25" x2="1021.1" y2="162" stroke="#2f4439" stroke-width="1.4"/>
<rect x="1018.2" y="153" width="5.5" height="7.5" fill="#20ad72" stroke="#1c4a34" stroke-width="1.25"/>
<line x1="1029.8" y1="136.25" x2="1029.8" y2="153.75" stroke="#2f4439" stroke-width="1.4"/>
<rect x="1026.9" y="148.75" width="5.5" height="4.5" fill="#20ad72" stroke="#1c4a34" stroke-width="1.25"/>
<line x1="1038.5" y1="140" x2="1038.5" y2="156.25" stroke="#2f4439" stroke-width="1.4"/>
<line x1="1035" y1="148.75" x2="1041.7" y2="148.75" stroke="#2f3a35" stroke-width="2"/>
<line x1="1047.2" y1="140" x2="1047.2" y2="150.75" stroke="#2f4439" stroke-width="1.4"/>
<rect x="1044.3" y="141.75" width="5.5" height="7.5" fill="#20ad72" stroke="#1c4a34" stroke-width="1.25"/>
<line x1="1055.9" y1="140.5" x2="1055.9" y2="168.75" stroke="#3d3232" stroke-width="1.4"/>
<rect x="1053" y="141.75" width="5.5" height="18.25" fill="#f0685f" stroke="#701c1c" stroke-width="1.25"/>
<line x1="1064.6" y1="140" x2="1064.6" y2="163" stroke="#2f4439" stroke-width="1.4"/>
<rect x="1061.7" y="145.5" width="5.5" height="16.25" fill="#20ad72" stroke="#1c4a34" stroke-width="1.25"/>
<line x1="1073.3" y1="123.75" x2="1073.3" y2="167.5" stroke="#3d3232" stroke-width="1.4"/>
<rect x="1070.4" y="144.5" width="5.5" height="9.75" fill="#f0685f" stroke="#701c1c" stroke-width="1.25"/>
<line x1="1082" y1="150" x2="1082" y2="185" stroke="#3d3232" stroke-width="1.4"/>
<rect x="1079.1" y="157" width="5.5" height="14.25" fill="#f0685f" stroke="#701c1c" stroke-width="1.25"/>
<line x1="1090.7" y1="165" x2="1090.7" y2="179.5" stroke="#2f4439" stroke-width="1.4"/>
<rect x="1087.8" y="166.25" width="5.5" height="5" fill="#20ad72" stroke="#1c4a34" stroke-width="1.25"/>
<line x1="1099.4" y1="153.75" x2="1099.4" y2="168.75" stroke="#2f4439" stroke-width="1.4"/>
<line x1="1095.9" y1="165.88" x2="1102.6" y2="165.88" stroke="#2f3a35" stroke-width="2"/>
<line x1="1108.1" y1="164.5" x2="1108.1" y2="180.75" stroke="#3d3232" stroke-width="1.4"/>
<rect x="1105.2" y="165.5" width="5.5" height="10" fill="#f0685f" stroke="#701c1c" stroke-width="1.25"/>
<line x1="1116.8" y1="161.25" x2="1116.8" y2="177.5" stroke="#2f4439" stroke-width="1.4"/>
<rect x="1113.9" y="163.75" width="5.5" height="12" fill="#20ad72" stroke="#1c4a34" stroke-width="1.25"/>
<line x1="1125.5" y1="150" x2="1125.5" y2="168.75" stroke="#2f4439" stroke-width="1.4"/>
<rect x="1122.6" y="160.75" width="5.5" height="3.75" fill="#20ad72" stroke="#1c4a34" stroke-width="1.25"/>
<line x1="1134.2" y1="159.5" x2="1134.2" y2="168.75" stroke="#3d3232" stroke-width="1.4"/>
<rect x="1131.3" y="162" width="5.5" height="3.75" fill="#f0685f" stroke="#701c1c" stroke-width="1.25"/>
<line x1="1142.9" y1="143.25" x2="1142.9" y2="164.5" stroke="#2f4439" stroke-width="1.4"/>
<rect x="1140" y="152.5" width="5.5" height="11.25" fill="#20ad72" stroke="#1c4a34" stroke-width="1.25"/>
<line x1="1151.6" y1="151.25" x2="1151.6" y2="163" stroke="#3d3232" stroke-width="1.4"/>
<rect x="1148.7" y="153" width="5.5" height="3.25" fill="#f0685f" stroke="#701c1c" stroke-width="1.25"/>
<line x1="1160.3" y1="143.75" x2="1160.3" y2="160.5" stroke="#2f4439" stroke-width="1.4"/>
<rect x="1157.4" y="145" width="5.5" height="12.5" fill="#20ad72" stroke="#1c4a34" stroke-width="1.25"/>
<line x1="1169" y1="137.5" x2="1169" y2="150.75" stroke="#2f4439" stroke-width="1.4"/>
<line x1="1165.5" y1="144.12" x2="1172.2" y2="144.12" stroke="#2f3a35" stroke-width="2"/>
<line x1="1177.7" y1="138" x2="1177.7" y2="149.5" stroke="#2f4439" stroke-width="1.4"/>
<line x1="1174.2" y1="142.5" x2="1180.9" y2="142.5" stroke="#2f3a35" stroke-width="2"/>
<line x1="1186.4" y1="139.25" x2="1186.4" y2="150" stroke="#3d3232" stroke-width="1.4"/>
<rect x="1183.5" y="143.25" width="5.5" height="6" fill="#f0685f" stroke="#701c1c" stroke-width="1.25"/>
<line x1="1195.1" y1="135.5" x2="1195.1" y2="151.25" stroke="#2f4439" stroke-width="1.4"/>
<rect x="1192.2" y="145" width="5.5" height="4.25" fill="#20ad72" stroke="#1c4a34" stroke-width="1.25"/>
<line x1="1203.8" y1="135" x2="1203.8" y2="147" stroke="#2f4439" stroke-width="1.4"/>
<rect x="1200.9" y="135.5" width="5.5" height="10" fill="#20ad72" stroke="#1c4a34" stroke-width="1.25"/>
<line x1="1212.5" y1="132.5" x2="1212.5" y2="147" stroke="#3d3232" stroke-width="1.4"/>
<rect x="1209.6" y="135.5" width="5.5" height="7" fill="#f0685f" stroke="#701c1c" stroke-width="1.25"/>
<line x1="1221.2" y1="138.25" x2="1221.2" y2="149.5" stroke="#2f4439" stroke-width="1.4"/>
<line x1="1217.7" y1="142.38" x2="1224.4" y2="142.38" stroke="#2f3a35" stroke-width="2"/>
<line x1="1229.9" y1="129.5" x2="1229.9" y2="148.25" stroke="#2f4439" stroke-width="1.4"/>
<rect x="1227" y="137" width="5.5" height="6.75" fill="#20ad72" stroke="#1c4a34" stroke-width="1.25"/>
<line x1="1238.6" y1="106.25" x2="1238.6" y2="138" stroke="#2f4439" stroke-width="1.4"/>
<rect x="1235.7" y="113.75" width="5.5" height="23.75" fill="#20ad72" stroke="#1c4a34" stroke-width="1.25"/>
<line x1="1247.3" y1="95.5" x2="1247.3" y2="121.25" stroke="#2f4439" stroke-width="1.4"/>
<rect x="1244.4" y="98" width="5.5" height="15.75" fill="#20ad72" stroke="#1c4a34" stroke-width="1.25"/>
<line x1="1256" y1="92" x2="1256" y2="144.5" stroke="#3d3232" stroke-width="1.4"/>
<rect x="1253.1" y="98" width="5.5" height="24" fill="#f0685f" stroke="#701c1c" stroke-width="1.25"/>
<line x1="1264.7" y1="116.25" x2="1264.7" y2="168.75" stroke="#3d3232" stroke-width="1.4"/>
<rect x="1261.8" y="121.75" width="5.5" height="12.5" fill="#f0685f" stroke="#701c1c" stroke-width="1.25"/>
<line x1="1273.4" y1="121.25" x2="1273.4" y2="156.25" stroke="#3d3232" stroke-width="1.4"/>
<rect x="1270.5" y="133.75" width="5.5" height="6.25" fill="#f0685f" stroke="#701c1c" stroke-width="1.25"/>
<line x1="1282.1" y1="121.25" x2="1282.1" y2="153.75" stroke="#2f4439" stroke-width="1.4"/>
<line x1="1278.6" y1="139.38" x2="1285.3" y2="139.38" stroke="#2f3a35" stroke-width="2"/>
<line x1="1290.8" y1="124.5" x2="1290.8" y2="151.25" stroke="#2f4439" stroke-width="1.4"/>
<rect x="1287.9" y="126.75" width="5.5" height="13.25" fill="#20ad72" stroke="#1c4a34" stroke-width="1.25"/>
<line x1="1299.5" y1="108.75" x2="1299.5" y2="130.75" stroke="#2f4439" stroke-width="1.4"/>
<rect x="1296.6" y="115" width="5.5" height="12.5" fill="#20ad72" stroke="#1c4a34" stroke-width="1.25"/>
<line x1="1308.2" y1="113" x2="1308.2" y2="133" stroke="#3d3232" stroke-width="1.4"/>
<rect x="1305.3" y="115" width="5.5" height="7" fill="#f0685f" stroke="#701c1c" stroke-width="1.25"/>
<line x1="1316.9" y1="112" x2="1316.9" y2="125" stroke="#2f4439" stroke-width="1.4"/>
<line x1="1313.4" y1="121.38" x2="1320.1" y2="121.38" stroke="#2f3a35" stroke-width="2"/>
<line x1="1325.6" y1="117.5" x2="1325.6" y2="123.75" stroke="#2f4439" stroke-width="1.4"/>
<rect x="1322.7" y="118.75" width="5.5" height="3.25" fill="#20ad72" stroke="#1c4a34" stroke-width="1.25"/>
<line x1="1334.3" y1="113.25" x2="1334.3" y2="130" stroke="#3d3232" stroke-width="1.4"/>
<rect x="1331.4" y="117.5" width="5.5" height="3" fill="#f0685f" stroke="#701c1c" stroke-width="1.25"/>
<line x1="1343" y1="110.25" x2="1343" y2="111.25" stroke="#2f4439" stroke-width="1.4"/>
<line x1="1339.5" y1="110.75" x2="1346.2" y2="110.75" stroke="#2f3a35" stroke-width="2"/>
<line x1="1351.7" y1="107.5" x2="1351.7" y2="142.5" stroke="#3d3232" stroke-width="1.4"/>
<rect x="1348.8" y="110.5" width="5.5" height="27.75" fill="#f0685f" stroke="#701c1c" stroke-width="1.25"/>
<line x1="1360.4" y1="132.5" x2="1360.4" y2="145.5" stroke="#2f4439" stroke-width="1.4"/>
<line x1="1356.9" y1="137.62" x2="1363.6" y2="137.62" stroke="#2f3a35" stroke-width="2"/>
<line x1="1369.1" y1="135.5" x2="1369.1" y2="149.5" stroke="#2f4439" stroke-width="1.4"/>
<line x1="1365.6" y1="137.62" x2="1372.3" y2="137.62" stroke="#2f3a35" stroke-width="2"/>
<line x1="1377.8" y1="129.5" x2="1377.8" y2="138.75" stroke="#3d3232" stroke-width="1.4"/>
<rect x="1374.9" y="135.5" width="5.5" height="3.25" fill="#f0685f" stroke="#701c1c" stroke-width="1.25"/>
<path d="M61.1 330.3h7.6M64.9 326.5v7.6" stroke="#4541a0" stroke-width="2.7" fill="none"/>
<path d="M399.1 222.6h7.6M402.9 218.8v7.6" stroke="#4541a0" stroke-width="2.7" fill="none"/>
<path d="M720.7 270.3h7.6M724.5 266.5v7.6" stroke="#4541a0" stroke-width="2.7" fill="none"/>
<text class="fib" x="1515.4" y="100.1" fill="#8c8c8c">0(5119.22)</text>
<text class="fib" x="1515.4" y="184.6" fill="#c8545a">0.236(5009.63)</text>
<text class="fib" x="1515.4" y="237.6" fill="#a3cd4e">0.382(4941.83)</text>
<text class="fib" x="1515.4" y="279.6" fill="#3fc43f">0.5(4887.04)</text>
<text class="fib" x="1515.4" y="321.8" fill="#3cc79c">0.618(4832.25)</text>
<text class="fib" x="1515.4" y="382.1" fill="#3e96c6">0.786(4754.23)</text>
<text class="fib" x="1515.4" y="457.6" fill="#8c8c8c">1(4654.86)</text>
<line x1="1525.3" y1="50" x2="1525.3" y2="691" stroke="#454545" stroke-width="1.2"/>
<line x1="7" y1="687" x2="1525.6" y2="687" stroke="#606060" stroke-width="1.35"/>
<rect x="7" y="473" width="1588" height="2.2" fill="#1e1e1e"/>
<line x1="1525.3" y1="70.5" x2="1529.8" y2="70.5" stroke="#555" stroke-width="1.2"/>
<text class="ax" x="1534" y="75.8">5150.00</text>
<line x1="1525.3" y1="109" x2="1529.8" y2="109" stroke="#555" stroke-width="1.2"/>
<text class="ax" x="1534" y="114.3">5100.00</text>
<line x1="1525.3" y1="147.5" x2="1529.8" y2="147.5" stroke="#555" stroke-width="1.2"/>
<text class="ax" x="1534" y="152.8">5050.00</text>
<line x1="1525.3" y1="186" x2="1529.8" y2="186" stroke="#555" stroke-width="1.2"/>
<text class="ax" x="1534" y="191.3">5000.00</text>
<line x1="1525.3" y1="224.5" x2="1529.8" y2="224.5" stroke="#555" stroke-width="1.2"/>
<text class="ax" x="1534" y="229.8">4950.00</text>
<line x1="1525.3" y1="263" x2="1529.8" y2="263" stroke="#555" stroke-width="1.2"/>
<text class="ax" x="1534" y="268.3">4900.00</text>
<line x1="1525.3" y1="301.5" x2="1529.8" y2="301.5" stroke="#555" stroke-width="1.2"/>
<text class="ax" x="1534" y="306.8">4850.00</text>
<line x1="1525.3" y1="340" x2="1529.8" y2="340" stroke="#555" stroke-width="1.2"/>
<text class="ax" x="1534" y="345.3">4800.00</text>
<line x1="1525.3" y1="378.5" x2="1529.8" y2="378.5" stroke="#555" stroke-width="1.2"/>
<text class="ax" x="1534" y="383.8">4750.00</text>
<line x1="1525.3" y1="417" x2="1529.8" y2="417" stroke="#555" stroke-width="1.2"/>
<text class="ax" x="1534" y="422.3">4700.00</text>
<line x1="1525.3" y1="455.5" x2="1529.8" y2="455.5" stroke="#555" stroke-width="1.2"/>
<text class="ax" x="1534" y="460.8">4650.00</text>
<line x1="1525.3" y1="503" x2="1529.8" y2="503" stroke="#555" stroke-width="1.2"/>
<text class="ax" x="1534" y="508.3">80.0000</text>
<line x1="1525.3" y1="564.3" x2="1529.8" y2="564.3" stroke="#555" stroke-width="1.2"/>
<text class="ax" x="1534" y="569.6">60.0000</text>
<line x1="1525.3" y1="625.6" x2="1529.8" y2="625.6" stroke="#555" stroke-width="1.2"/>
<text class="ax" x="1534" y="630.9">40.0000</text>
<line x1="1525.3" y1="686.9" x2="1529.8" y2="686.9" stroke="#555" stroke-width="1.2"/>
<text class="ax" x="1534" y="692.2">20.0000</text>
<rect x="1526" y="688" width="74" height="29" fill="#fff"/>
<rect x="1524.4" y="104.7" width="69.2" height="22" fill="#f00f0f"/>
<line x1="1526" y1="115.7" x2="1529.8" y2="115.7" stroke="#fff" stroke-width="1.2"/>
<text class="lb" x="1534" y="121">5091.39</text>
<rect x="1524.4" y="126.4" width="69.2" height="22" fill="#f00f0f"/>
<line x1="1526" y1="137.4" x2="1529.8" y2="137.4" stroke="#fff" stroke-width="1.2"/>
<text class="lb" x="1534" y="142.7">5074.76</text>
<rect x="1524.4" y="148.5" width="69.2" height="22" fill="#4a72d8"/>
<line x1="1526" y1="159.5" x2="1529.8" y2="159.5" stroke="#fff" stroke-width="1.2"/>
<text class="lb" x="1534" y="164.8">5061.04</text>
<rect x="1524.4" y="170.4" width="69.2" height="22" fill="#0a7a0a"/>
<line x1="1526" y1="181.4" x2="1529.8" y2="181.4" stroke="#fff" stroke-width="1.2"/>
<text class="lb" x="1534" y="186.7">5052.66</text>
<line x1="1524.4" y1="126.4" x2="1593.6" y2="126.4" stroke="#f54a3a" stroke-width="0.8"/>
<rect x="1524.4" y="603.8" width="70" height="21.4" fill="#800080"/>
<line x1="1526" y1="614.7" x2="1529.8" y2="614.7" stroke="#fff" stroke-width="1.2"/>
<text class="lb" x="1534" y="620">43.4728</text>
<line x1="91" y1="687" x2="91" y2="691.5" stroke="#666" stroke-width="1.3"/>
<text class="tm" x="91" y="707">4</text>
<line x1="291" y1="687" x2="291" y2="691.5" stroke="#666" stroke-width="1.3"/>
<text class="tm" x="291" y="707">5</text>
<line x1="491" y1="687" x2="491" y2="691.5" stroke="#666" stroke-width="1.3"/>
<text class="tm" x="491" y="707">6</text>
<line x1="691" y1="687" x2="691" y2="691.5" stroke="#666" stroke-width="1.3"/>
<text class="tm" x="691" y="707">7</text>
<line x1="892" y1="687" x2="892" y2="691.5" stroke="#666" stroke-width="1.3"/>
<text class="tm" x="892" y="707">10</text>
<line x1="1091.5" y1="687" x2="1091.5" y2="691.5" stroke="#666" stroke-width="1.3"/>
<text class="tm" x="1091.5" y="707">11</text>
<line x1="1291.5" y1="687" x2="1291.5" y2="691.5" stroke="#666" stroke-width="1.3"/>
<text class="tm" x="1291.5" y="707">12</text>
<line x1="1500" y1="687" x2="1500" y2="691.5" stroke="#666" stroke-width="1.3"/>
<text class="tm" x="1500" y="707">13</text>
<line x1="1396.5" y1="687" x2="1396.5" y2="691.5" stroke="#666" stroke-width="1.3"/>
<text class="tm" x="1396.5" y="707" style="font-weight:normal;font-size:14px">12:00</text>
<text class="hd" x="14" y="19.1" textLength="428" lengthAdjust="spacingAndGlyphs">Published on Investing.com, 12/Feb/2026 - 2:37:38 GMT, Powered by TradingView.</text>
<text class="hd" x="13.2" y="39" textLength="247.3" lengthAdjust="spacingAndGlyphs" style="font-weight:bold;fill:#111">XAU/USD, Real-timeCurrencies:XAU/USD, 60</text>
<text class="hd" x="15.2" y="68.3" textLength="94.5" lengthAdjust="spacingAndGlyphs">MA Cross (20, 50)</text>
<text class="hd" x="14.7" y="493" textLength="38" lengthAdjust="spacingAndGlyphs" style="fill:#333">RSI (9)</text>
<rect x="25.5" y="431" width="32.6" height="32.2" rx="5.5" fill="#0a0a0a"/>
<rect x="30.2" y="437.3" width="5.9" height="18.8" rx="2.9" fill="#fff"/>
<rect x="38.2" y="442.3" width="5.8" height="13.8" rx="2.9" fill="#fff"/>
<rect x="46" y="437.3" width="7.3" height="18.8" rx="3.2" fill="#fff"/>
<text x="66.4" y="455.2" textLength="69.2" lengthAdjust="spacingAndGlyphs" style="font-size:23.6px;font-weight:bold;fill:#0a0a0a;stroke:#0a0a0a;stroke-width:0.9px;stroke-linejoin:miter">MTF</text>
<text x="141.3" y="454.8" textLength="22.5" lengthAdjust="spacingAndGlyphs" style="font-family:'Noto Sans CJK SC','Liberation Sans',sans-serif;font-size:22px;font-weight:900;fill:#0a0a0a">明</text>
<text x="167.4" y="454.8" textLength="29" lengthAdjust="spacingAndGlyphs" style="font-family:'Noto Sans CJK SC','Liberation Sans',sans-serif;font-size:22px;font-weight:900;fill:#0a0a0a">德</text>
</g></svg></body></html>
